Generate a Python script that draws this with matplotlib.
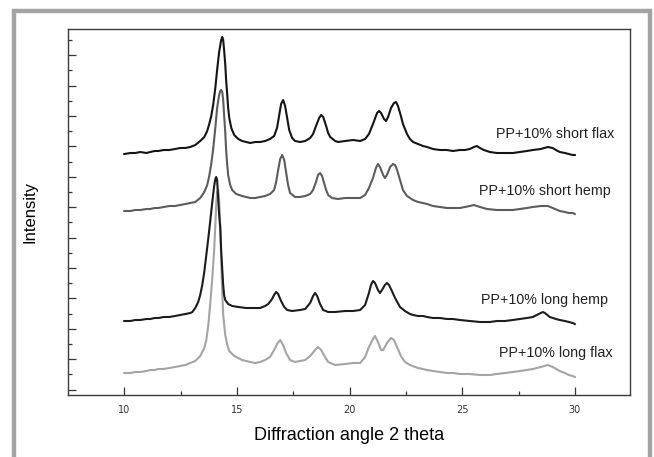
import matplotlib
matplotlib.use("Agg")
import numpy as np
import matplotlib.pyplot as plt
from matplotlib import font_manager
from matplotlib.patches import Rectangle
from matplotlib.ticker import FixedLocator

# 2-theta positions (degrees) and stacked intensities (a.u., offsets included)
theta_short_flax = [10.00, 10.27, 10.49, 10.71, 10.98, 11.15, 11.35, 11.51, 11.75, 12.00, 12.25, 12.48, 12.71,
                    12.93, 13.15, 13.37, 13.55, 13.68, 13.77, 13.86, 13.95, 14.04, 14.12, 14.21, 14.30, 14.35,
                    14.39, 14.43, 14.48, 14.52, 14.57, 14.61, 14.66, 14.75, 14.88, 15.06, 15.23, 15.41, 15.59,
                    15.81, 16.03, 16.25, 16.47, 16.65, 16.78, 16.87, 16.96, 17.05, 17.14, 17.23, 17.32, 17.45,
                    17.58, 17.80, 18.03, 18.25, 18.38, 18.51, 18.65, 18.74, 18.83, 18.96, 19.05, 19.14, 19.36,
                    19.49, 19.80, 20.16, 20.47, 20.69, 20.86, 21.04, 21.22, 21.31, 21.40, 21.53, 21.62, 21.71,
                    21.84, 21.97, 22.06, 22.15, 22.28, 22.37, 22.55, 22.68, 22.82, 23.04, 23.26, 23.44, 23.70,
                    24.01, 24.32, 24.59, 24.90, 25.12, 25.34, 25.52, 25.65, 25.79, 25.96, 26.23, 26.54, 26.90,
                    27.25, 27.56, 27.87, 28.14, 28.49, 28.80, 29.02, 29.16, 29.33, 29.56, 29.73, 29.91, 30.00]
y_short_flax = [154, 153, 153, 152, 153, 152, 151, 151, 150, 150, 149, 148, 148,
                147, 145, 141, 137, 131, 124, 116, 104, 88, 70, 52, 40, 37,
                40, 50, 64, 80, 95, 108, 118, 128, 135, 139, 141, 142, 143,
                142, 142, 141, 139, 136, 128, 116, 104, 100, 106, 118, 130, 138,
                141, 142, 141, 138, 134, 126, 118, 115, 117, 126, 133, 137, 141,
                142, 141, 140, 141, 139, 134, 124, 113, 111, 113, 119, 121, 117,
                108, 103, 102, 106, 116, 124, 134, 139, 142, 144, 146, 147, 149,
                150, 150, 151, 150, 150, 149, 147, 146, 148, 150, 152, 153, 153,
                153, 152, 151, 150, 149, 147, 148, 150, 152, 153, 154, 155, 155]

theta_short_hemp = [10.00, 10.27, 10.49, 10.71, 10.98, 11.15, 11.35, 11.51, 11.75, 12.00, 12.25, 12.48, 12.71,
                    12.93, 13.15, 13.37, 13.55, 13.68, 13.77, 13.86, 13.95, 14.04, 14.12, 14.21, 14.26, 14.30,
                    14.35, 14.39, 14.43, 14.48, 14.52, 14.57, 14.61, 14.70, 14.79, 14.97, 15.23, 15.59, 15.81,
                    16.03, 16.25, 16.47, 16.65, 16.74, 16.83, 16.92, 17.01, 17.10, 17.18, 17.27, 17.36, 17.58,
                    17.80, 18.03, 18.25, 18.38, 18.51, 18.60, 18.69, 18.78, 18.87, 18.96, 19.05, 19.22, 19.49,
                    19.80, 20.16, 20.47, 20.69, 20.86, 21.04, 21.17, 21.26, 21.35, 21.49, 21.57, 21.66, 21.80,
                    21.93, 22.02, 22.11, 22.24, 22.37, 22.55, 22.82, 23.04, 23.26, 23.44, 23.70, 24.01, 24.32,
                    24.59, 24.90, 25.12, 25.34, 25.52, 25.79, 26.10, 26.54, 26.90, 27.25, 27.56, 27.87, 28.14,
                    28.49, 28.80, 29.02, 29.33, 29.56, 29.73, 29.91, 30.00]
y_short_hemp = [211, 211, 210, 210, 209, 209, 208, 208, 207, 206, 206, 205, 204,
                203, 202, 198, 192, 185, 176, 164, 148, 128, 108, 95, 91, 90,
                92, 100, 115, 132, 150, 165, 175, 185, 190, 194, 196, 198, 198,
                197, 196, 194, 190, 182, 170, 159, 155, 160, 172, 185, 193, 197,
                197, 196, 194, 190, 182, 175, 173, 176, 183, 190, 195, 198, 199,
                198, 198, 198, 195, 188, 178, 168, 164, 167, 175, 178, 175, 167,
                164, 165, 170, 180, 190, 196, 200, 202, 203, 204, 206, 207, 208,
                208, 208, 207, 206, 205, 207, 209, 210, 210, 210, 209, 208, 207,
                206, 206, 208, 211, 212, 213, 213, 214]

theta_long_hemp = [10.00, 10.27, 10.49, 10.71, 10.98, 11.15, 11.35, 11.51, 11.75, 12.00, 12.25, 12.48, 12.71,
                   12.93, 13.02, 13.15, 13.28, 13.37, 13.46, 13.55, 13.64, 13.73, 13.81, 13.90, 13.99, 14.04,
                   14.08, 14.12, 14.17, 14.21, 14.26, 14.30, 14.35, 14.39, 14.43, 14.48, 14.61, 14.79, 15.06,
                   15.41, 15.81, 16.03, 16.25, 16.39, 16.56, 16.65, 16.74, 16.83, 16.96, 17.10, 17.23, 17.45,
                   17.80, 18.03, 18.25, 18.38, 18.47, 18.56, 18.69, 18.83, 19.05, 19.36, 19.80, 20.16, 20.47,
                   20.69, 20.86, 20.95, 21.04, 21.13, 21.26, 21.35, 21.44, 21.57, 21.66, 21.75, 21.88, 22.02,
                   22.24, 22.46, 22.68, 22.82, 23.04, 23.26, 23.44, 23.70, 24.01, 24.32, 24.59, 24.90, 25.34,
                   25.79, 26.23, 26.54, 26.90, 27.25, 27.56, 27.87, 28.14, 28.31, 28.49, 28.58, 28.67, 28.89,
                   29.16, 29.33, 29.56, 29.73, 29.91, 30.00]
y_long_hemp = [321, 321, 320, 320, 319, 319, 318, 318, 317, 317, 316, 315, 314,
               313, 312, 308, 302, 295, 285, 272, 255, 238, 222, 203, 186, 179,
               177, 180, 200, 215, 228, 250, 270, 285, 295, 300, 304, 306, 307,
               308, 308, 308, 306, 304, 299, 295, 292, 294, 301, 307, 310, 311,
               310, 309, 303, 296, 293, 296, 304, 310, 312, 312, 311, 311, 310,
               305, 293, 285, 281, 283, 290, 293, 290, 285, 283, 285, 291, 298,
               307, 311, 314, 315, 316, 316, 317, 318, 318, 319, 319, 320, 321,
               322, 322, 321, 321, 320, 319, 318, 317, 315, 313, 312, 313, 317,
               319, 320, 321, 322, 323, 324]

theta_long_flax = [10.00, 10.27, 10.49, 10.71, 10.98, 11.15, 11.35, 11.51, 11.75, 12.00, 12.25, 12.48, 12.71,
                   12.93, 13.15, 13.37, 13.55, 13.64, 13.73, 13.81, 13.90, 13.99, 14.04, 14.08, 14.12, 14.17,
                   14.21, 14.26, 14.30, 14.35, 14.39, 14.48, 14.57, 14.66, 14.88, 15.23, 15.59, 15.81, 16.03,
                   16.25, 16.47, 16.65, 16.78, 16.92, 17.05, 17.18, 17.36, 17.58, 17.80, 18.03, 18.25, 18.47,
                   18.60, 18.74, 18.91, 19.05, 19.36, 19.80, 20.16, 20.47, 20.69, 20.86, 21.04, 21.13, 21.26,
                   21.40, 21.49, 21.66, 21.84, 21.97, 22.11, 22.28, 22.46, 22.68, 23.04, 23.44, 23.70, 24.01,
                   24.32, 24.59, 24.90, 25.34, 25.79, 26.23, 26.54, 26.90, 27.25, 27.56, 27.87, 28.14, 28.49,
                   28.80, 29.02, 29.33, 29.56, 29.73, 29.91, 30.00]
y_long_flax = [373, 373, 372, 372, 371, 370, 370, 369, 369, 368, 367, 366, 365,
               363, 361, 356, 348, 340, 325, 305, 280, 250, 225, 205, 192, 190,
               200, 225, 260, 293, 315, 335, 345, 351, 356, 360, 362, 363, 362,
               360, 357, 350, 344, 340, 345, 353, 360, 362, 361, 360, 356, 350,
               347, 350, 357, 362, 365, 364, 363, 363, 357, 347, 339, 336, 342,
               350, 350, 343, 338, 340, 347, 356, 362, 365, 368, 370, 371, 372,
               373, 373, 374, 374, 375, 375, 374, 373, 372, 371, 370, 369, 367,
               365, 367, 371, 373, 375, 376, 377]

series_labels = ["PP+10% short flax", "PP+10% short hemp", "PP+10% long hemp", "PP+10% long flax"]
x_ticks = [10, 15, 20, 25, 30]

PLOT_TOP = 395  # intensity scale reference (a.u.)


def to_intensity(vals):
    return [PLOT_TOP - v for v in vals]


def first_font(names):
    for name in names:
        try:
            font_manager.findfont(font_manager.FontProperties(family=name), fallback_to_default=False)
            return name
        except Exception:
            continue
    return "DejaVu Sans"


narrow = first_font(["Liberation Sans Narrow"])
if narrow == "Liberation Sans Narrow":
    label_family, label_size = ["Liberation Sans Narrow", "DejaVu Sans"], 12.5
else:
    label_family, label_size = ["Liberation Sans", "DejaVu Sans"], 10.3

fig = plt.figure(figsize=(6.54, 4.57), dpi=100)
fig.patch.set_facecolor("white")

# grey outer frame
fig.patches.append(Rectangle((14 / 654, -0.05), (650 - 14) / 654, 1.05 - 11 / 457,
                             transform=fig.transFigure, fill=False,
                             edgecolor="#a3a3a3", linewidth=3.2, zorder=0))

ax = fig.add_axes([68 / 654, 1 - 395 / 457, (630 - 68) / 654, (395 - 29) / 457])

curves = [
    (theta_short_flax, y_short_flax, "#141414"),
    (theta_short_hemp, y_short_hemp, "#5c5c5c"),
    (theta_long_flax, y_long_flax, "#a4a4a4"),
    (theta_long_hemp, y_long_hemp, "#1c1c1c"),
]
for th, yv, col in curves:
    ax.plot(th, to_intensity(yv), color=col, linewidth=1.5, solid_joinstyle="round")

label_pos = [(31.77, PLOT_TOP - 134), (31.6, PLOT_TOP - 191), (31.46, PLOT_TOP - 300), (31.68, PLOT_TOP - 353)]
for lab, (lx, ly) in zip(series_labels, label_pos):
    ax.text(lx, ly, lab, ha="right", va="center", fontsize=label_size,
            family=label_family, color="#222222")

ax.set_xlim(7.5, 32.45)
ax.set_ylim(0, PLOT_TOP - 29)

# unlabeled intensity ticks: long and short marks alternating
y_major = np.arange(5.5, PLOT_TOP - 29, 30.4)
y_minor = np.arange(5.5 + 15.2, PLOT_TOP - 29, 30.4)
ax.xaxis.set_major_locator(FixedLocator(x_ticks))
ax.xaxis.set_minor_locator(FixedLocator([12.5, 17.5, 22.5, 27.5]))
ax.yaxis.set_major_locator(FixedLocator(y_major))
ax.yaxis.set_minor_locator(FixedLocator(y_minor))
ax.tick_params(axis="both", which="major", direction="in", length=6, width=0.9, color="#333333",
               labelsize=7, labelcolor="#333333", pad=7)
ax.tick_params(axis="both", which="minor", direction="in", length=3, width=0.9, color="#333333")
ax.tick_params(axis="y", which="both", left=True, right=False, labelleft=False)
ax.tick_params(axis="x", which="both", top=False)

for s in ax.spines.values():
    s.set_color("#3a3a3a")
    s.set_linewidth(1.0)

ax.set_xlabel("Diffraction angle 2 theta", fontsize=13, family=["Liberation Sans", "DejaVu Sans"],
              labelpad=9)
ax.set_ylabel("Intensity", fontsize=12, family=["Liberation Sans", "DejaVu Sans"], labelpad=22)

fig.savefig("out.png", dpi=100, facecolor="white")
